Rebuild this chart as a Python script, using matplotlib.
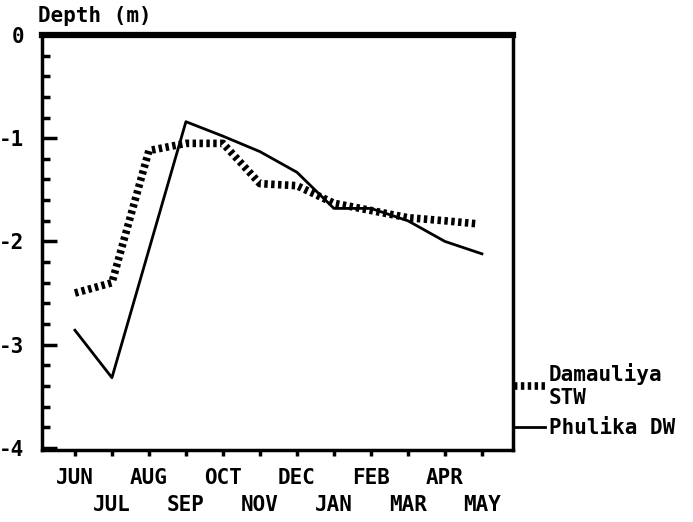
import numpy as np
import matplotlib
matplotlib.use("Agg")
import matplotlib.pyplot as plt

# Meses del año hidrológico (junio a mayo)
meses = ["JUN", "JUL", "AUG", "SEP", "OCT", "NOV",
         "DEC", "JAN", "FEB", "MAR", "APR", "MAY"]

# Profundidad del nivel freático (m), Damauliya STW
damauliya_x = [0, 1, 2, 3, 4, 5, 6, 7, 8, 9, 10, 10.9]
damauliya_y = [-2.5, -2.4, -1.12, -1.05, -1.05, -1.44, -1.46, -1.63, -1.7, -1.77, -1.8, -1.83]

# Profundidad del nivel freático (m), Phulika DW
phulika_x = [0, 1, 3, 4, 5, 6, 6.4, 7, 8, 9, 10, 11]
phulika_y = [-2.86, -3.32, -0.84, -0.98, -1.13, -1.33, -1.47, -1.68, -1.68, -1.8, -2.0, -2.12]

fuente = {"family": "DejaVu Sans Mono", "weight": "bold", "size": 15}

fig = plt.figure(figsize=(6.93, 5.22), dpi=100)
ax = fig.add_axes([0.0606, 0.138, 0.6797, 0.795])

ax.plot(damauliya_x, damauliya_y, color="black", lw=5.5,
        linestyle=(0, (0.45, 0.45)), label="Damauliya\nSTW")
ax.plot(phulika_x, phulika_y, color="black", lw=2, label="Phulika DW")

ax.set_xlim(-0.89, 11.84)
ax.set_ylim(-4.02, 0)

# Eje y: marcas hacia dentro, mayores cada metro y menores cada 0.2 m
ax.set_yticks([0, -1, -2, -3, -4])
ax.set_yticklabels(["0", "-1", "-2", "-3", "-4"], fontdict=fuente)
ax.set_yticks(np.arange(-4, 0.01, 0.2), minor=True)
ax.tick_params(axis="y", which="major", direction="in", length=11, width=2.5, pad=13)
ax.tick_params(axis="y", which="minor", direction="in", length=6, width=2.5)

# Eje x: etiquetas alternadas en dos filas
ax.set_xticks(range(len(meses)))
etiquetas = [m if i % 2 == 0 else "\n" + m for i, m in enumerate(meses)]
ax.set_xticklabels(etiquetas, fontdict=fuente, linespacing=1.45)
ax.tick_params(axis="x", direction="out", length=4, width=2.5, pad=9)

for lado in ["left", "right", "bottom"]:
    ax.spines[lado].set_linewidth(2.5)
ax.spines["top"].set_linewidth(4.5)

fig.text(38 / 693, 1 - 22 / 522, "Depth (m)", fontdict=fuente, va="baseline")

ax.legend(loc="upper left", bbox_to_anchor=(0.742, 0.305), bbox_transform=fig.transFigure,
          frameon=False, handlelength=1.5, handletextpad=0.15, labelspacing=0.5,
          borderaxespad=0, borderpad=0,
          prop={"family": "DejaVu Sans Mono", "weight": "bold", "size": 15})

plt.savefig("out.png", dpi=100)
